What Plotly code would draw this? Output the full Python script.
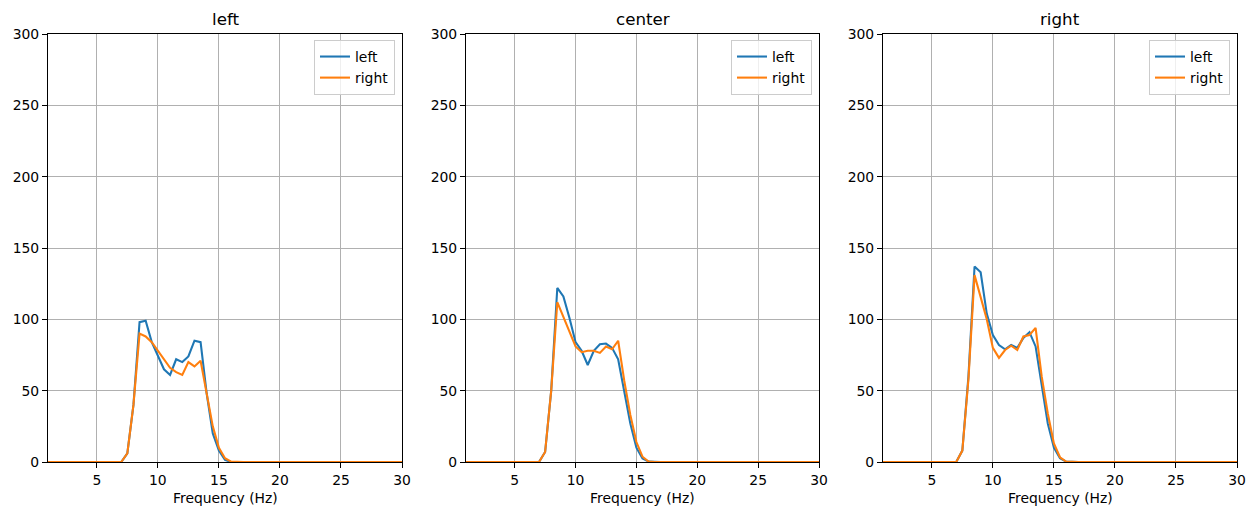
import plotly.graph_objects as go

freqs = [1.0, 1.5, 2.0, 2.5, 3.0, 3.5, 4.0, 4.5, 5.0, 5.5, 6.0, 6.5, 7.0,
         7.5, 8.0, 8.5, 9.0, 9.5, 10.0, 10.5, 11.0, 11.5, 12.0, 12.5, 13.0,
         13.5, 14.0, 14.5, 15.0, 15.5, 16.0, 16.5, 17.0, 17.5, 18.0, 18.5,
         19.0, 19.5, 20.0, 20.5, 21.0, 21.5, 22.0, 22.5, 23.0, 23.5, 24.0,
         24.5, 25.0, 25.5, 26.0, 26.5, 27.0, 27.5, 28.0, 28.5, 29.0, 29.5, 30.0]

panel_titles = ["left", "center", "right"]
series_names = ["left", "right"]
x_label = "Frequency (Hz)"

# left panel
left_left = [0, 0, 0, 0, 0, 0, 0, 0, 0, 0, 0, 0, 0,
             6, 40, 98, 99, 84, 74, 65, 61, 72, 70, 74, 85, 84, 48, 20, 8, 1.5,
             0, 0, 0, 0, 0, 0, 0, 0, 0, 0, 0, 0, 0, 0, 0, 0, 0, 0, 0, 0, 0, 0, 0, 0, 0, 0, 0, 0, 0]
left_right = [0, 0, 0, 0, 0, 0, 0, 0, 0, 0, 0, 0, 0,
              6, 40, 90, 88, 84, 78, 72, 66, 63, 61, 70, 67, 71, 48, 25, 10, 2.6,
              0.3, 0, 0, 0, 0, 0, 0, 0, 0, 0, 0, 0, 0, 0, 0, 0, 0, 0, 0, 0, 0, 0, 0, 0, 0, 0, 0, 0, 0]
# center panel
center_left = [0, 0, 0, 0, 0, 0, 0, 0, 0, 0, 0, 0, 0,
               7, 50, 122, 116, 101, 84, 78, 68, 78, 82.5, 83, 80, 72, 50, 27, 10, 2.5,
               0.3, 0, 0, 0, 0, 0, 0, 0, 0, 0, 0, 0, 0, 0, 0, 0, 0, 0, 0, 0, 0, 0, 0, 0, 0, 0, 0, 0, 0]
center_right = [0, 0, 0, 0, 0, 0, 0, 0, 0, 0, 0, 0, 0,
                7, 50, 112, 102, 91, 81, 77, 78, 78, 76.5, 81, 79, 85, 57, 33, 14, 3.7,
                0.3, 0, 0, 0, 0, 0, 0, 0, 0, 0, 0, 0, 0, 0, 0, 0, 0, 0, 0, 0, 0, 0, 0, 0, 0, 0, 0, 0, 0]
# right panel
right_left = [0, 0, 0, 0, 0, 0, 0, 0, 0, 0, 0, 0, 0,
              8, 60, 137, 133, 104, 89, 82, 79, 82, 80, 87, 91, 81, 53, 27, 10, 2.6,
              0.3, 0, 0, 0, 0, 0, 0, 0, 0, 0, 0, 0, 0, 0, 0, 0, 0, 0, 0, 0, 0, 0, 0, 0, 0, 0, 0, 0, 0]
right_right = [0, 0, 0, 0, 0, 0, 0, 0, 0, 0, 0, 0, 0,
               8, 58, 131, 116, 100, 80, 73, 78.5, 81.5, 78.5, 88, 89, 94, 60, 34, 13, 3.3,
               0.3, 0, 0, 0, 0, 0, 0, 0, 0, 0, 0, 0, 0, 0, 0, 0, 0, 0, 0, 0, 0, 0, 0, 0, 0, 0, 0, 0, 0]

x_ticks = [5, 10, 15, 20, 25, 30]
y_ticks = [0, 50, 100, 150, 200, 250, 300]

panels = [(left_left, left_right), (center_left, center_right), (right_left, right_right)]
colors = ["#1f77b4", "#ff7f0e"]

W, H = 1254, 510
x_doms = [(48, 402), (466, 819), (883, 1237)]
y_dom = [(H - 462) / H, (H - 34) / H]
FONT = "DejaVu Sans"

fig = go.Figure()
layout = dict(
    width=W, height=H,
    margin=dict(l=0, r=0, t=0, b=0, autoexpand=False),
    paper_bgcolor="white", plot_bgcolor="white",
    font=dict(family=FONT, size=13.9, color="black"),
    showlegend=True,
    annotations=[],
)

for i, (s_left, s_right) in enumerate(panels):
    suffix = "" if i == 0 else str(i + 1)
    xa = "x" + suffix
    ya = "y" + suffix
    leg = "legend" + suffix
    for name, vals, col in zip(series_names, (s_left, s_right), colors):
        fig.add_trace(go.Scatter(
            x=freqs, y=vals, mode="lines", name=name,
            line=dict(color=col, width=2.08),
            xaxis=xa, yaxis=ya, legend=leg, showlegend=True,
        ))
    x0, x1 = x_doms[i]
    layout["xaxis" + suffix] = dict(
        domain=[x0 / W, x1 / W], range=[1, 30], anchor=ya, automargin=False,
        tickvals=x_ticks, ticks="outside", ticklen=5, tickwidth=1.1, tickcolor="black",
        showline=True, linecolor="black", linewidth=1.1, mirror=True,
        showgrid=True, gridcolor="#b0b0b0", gridwidth=1.1, zeroline=False,
        tickfont=dict(family=FONT, size=13.9, color="black"),
    )
    layout["yaxis" + suffix] = dict(
        domain=y_dom, range=[0, 300], anchor=xa, automargin=False,
        tickvals=y_ticks, ticks="outside", ticklen=5, tickwidth=1.1, tickcolor="black",
        showline=True, linecolor="black", linewidth=1.1, mirror=True,
        showgrid=True, gridcolor="#b0b0b0", gridwidth=1.1, zeroline=False,
        tickfont=dict(family=FONT, size=13.9, color="black"),
    )
    layout[leg] = dict(
        x=(x1 - 7) / W, y=(H - 40) / H, xanchor="right", yanchor="top",
        bgcolor="rgba(255,255,255,0.8)", bordercolor="#cccccc", borderwidth=1,
        font=dict(family=FONT, size=13.9, color="black"),
        itemwidth=30, tracegroupgap=0,
    )
    layout["annotations"].append(dict(
        text=panel_titles[i], xref="paper", yref="paper",
        x=(x0 + x1) / 2 / W, y=(H - 31) / H, xanchor="center", yanchor="bottom",
        showarrow=False, font=dict(family=FONT, size=16.7, color="black"),
    ))
    layout["annotations"].append(dict(
        text=x_label, xref="paper", yref="paper",
        x=(x0 + x1) / 2 / W, y=(H - 498) / H, xanchor="center", yanchor="middle",
        showarrow=False, font=dict(family=FONT, size=13.9, color="black"),
    ))

fig.update_layout(**layout)
fig.write_html(
    "out.html",
    config={"displayModeBar": False},
    post_script="document.body.style.margin='0';document.body.style.overflow='hidden';",
)
